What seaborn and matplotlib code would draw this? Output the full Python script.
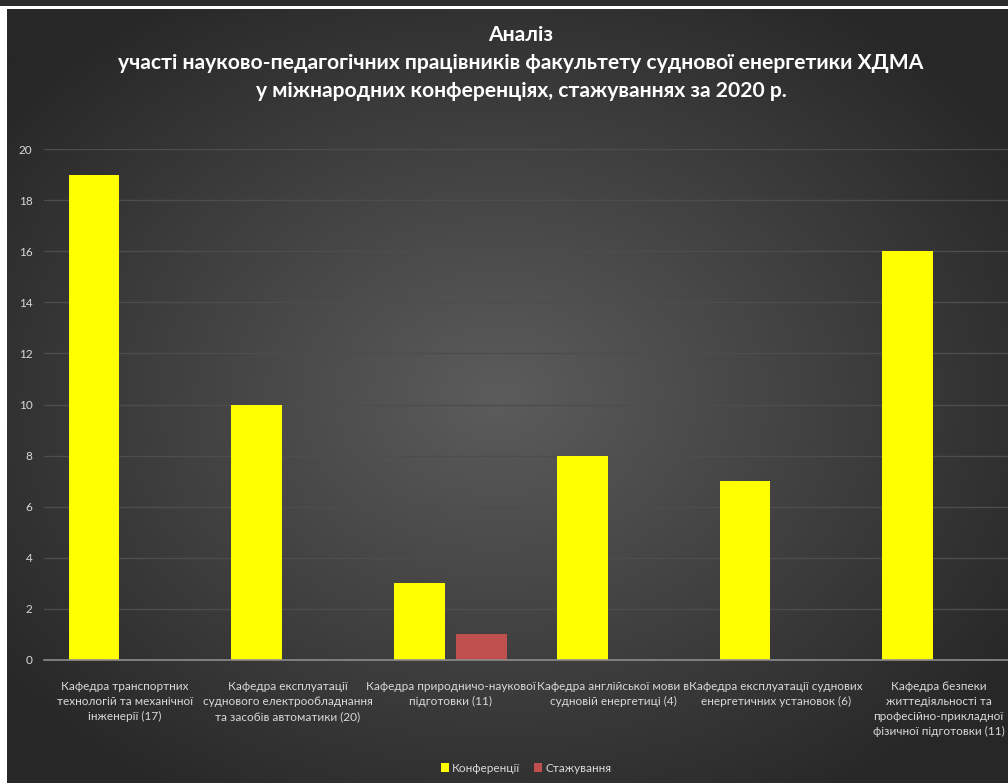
import seaborn as sns
import matplotlib.pyplot as plt
import pandas as pd
import numpy as np

sns.set_style("white")
plt.rcParams["font.family"] = ["Lato", "DejaVu Sans"]

# Data
departments = [
    "Кафедра транспортних\nтехнологій та механічної\nінженерії (17)",
    "Кафедра експлуатації\nсуднового електрообладнання\nта засобів автоматики (20)",
    "Кафедра природничо-наукової\nпідготовки (11)",
    "Кафедра англійської мови в\nсудновій енергетиці (4)",
    "Кафедра експлуатації суднових\nенергетичних установок (6)",
    "Кафедра безпеки\nжиттедіяльності та\nпрофесійно-прикладної\nфізичної підготовки (11)",
]
conferences = [19, 10, 3, 8, 7, 16]
internships = [0, 0, 1, 0, 0, 0]
series = ["Конференції", "Стажування"]
colors = {"Конференції": "#ffff00", "Стажування": "#c0504d"}

df = pd.DataFrame({
    "Кафедра": departments * 2,
    "Кількість": conferences + internships,
    "Вид": [series[0]] * len(departments) + [series[1]] * len(departments),
})

W, H = 1008, 783
fig = plt.figure(figsize=(W / 100, H / 100), dpi=100)
fig.patch.set_facecolor("white")

# dark strip on top
strip = fig.add_axes([0, 1 - 6 / H, 1, 6 / H])
strip.axis("off")
strip.add_patch(plt.Rectangle((0, 0), 1, 1, color="#2b2b2b", transform=strip.transAxes))

# radial gradient background
bg = fig.add_axes([7 / W, 0, 1 - 7 / W, (H - 9) / H])
yy, xx = np.mgrid[0:400, 0:520]
cx, cy = 520 * 0.49, 400 * 0.5
r = np.sqrt(((xx - cx) / 520) ** 2 + ((yy - cy) / 400) ** 2) / 0.62
r = np.clip(r, 0, 1)
inner = np.array([0x5c, 0x5c, 0x5c]) / 255
outer = np.array([0x27, 0x27, 0x27]) / 255
img = inner[None, None, :] * (1 - r[..., None]) + outer[None, None, :] * r[..., None]
bg.imshow(img, aspect="auto", interpolation="bilinear")
bg.axis("off")

ax = fig.add_axes([43.6 / W, 1 - 660 / H, (1020 - 43.6) / W, (660 - 149) / H])
ax.set_facecolor("none")

sns.barplot(
    data=df, x="Кафедра", y="Кількість", hue="Вид",
    palette=colors, saturation=1, width=0.76, gap=0.18, linewidth=0,
    ax=ax, legend=True,
)

ax.set_ylim(0, 20)
ax.set_yticks(range(0, 21, 2))
ax.set_xlim(-0.5, len(departments) - 0.5)
ax.yaxis.grid(True, color="#4d4d4d", linewidth=1)
ax.set_axisbelow(True)
for s in ["top", "right", "left"]:
    ax.spines[s].set_visible(False)
ax.spines["bottom"].set_color("#8c8c8c")
ax.spines["bottom"].set_linewidth(1.2)
ax.tick_params(axis="both", length=0, colors="#d9d9d9", labelsize=8.5)
ax.tick_params(axis="y", pad=8)
ax.tick_params(axis="x", pad=15)
for lbl in ax.get_xticklabels():
    lbl.set_linespacing(1.45)
ax.set_xlabel("")
ax.set_ylabel("")

handles, labels = ax.get_legend_handles_labels()
ax.legend_.remove()
fig.legend(handles, labels, loc="center", bbox_to_anchor=(526 / W, 1 - 768 / H),
           ncol=2, frameon=False, fontsize=8.5, labelcolor="#d9d9d9",
           handlelength=0.7, handleheight=0.7, handletextpad=0.3, columnspacing=1.1)

fig.text(521 / W, 1 - 63 / H,
         "Аналіз\nучасті науково-педагогічних працівників факультету суднової енергетики ХДМА\nу міжнародних конференціях, стажуваннях за 2020 р.",
         ha="center", va="center", color="white", fontsize=15.2, fontweight="bold",
         linespacing=1.48)

fig.savefig("out.png", dpi=100)
plt.close()
